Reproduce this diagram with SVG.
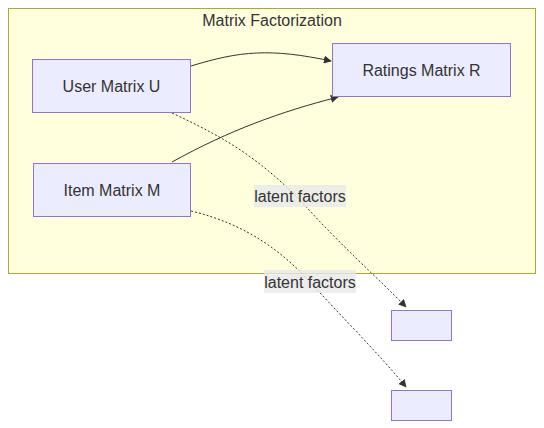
<svg xmlns="http://www.w3.org/2000/svg" width="544" height="428" viewBox="0 0 544 428">
<style>
text{font-family:"Liberation Sans",Arial,sans-serif;font-size:16px;fill:#333;text-anchor:middle;dominant-baseline:central}
.node rect{fill:#ececff;stroke:#9370db;stroke-width:1}
.edge{fill:none;stroke:#333;stroke-width:1}
.dash{stroke-dasharray:2 2}
.lbl{fill:#e8e8e8;opacity:0.8}
</style>
<defs>
<marker id="arr" viewBox="0 0 10 10" refX="9" refY="5" markerWidth="8" markerHeight="8" orient="auto" markerUnits="userSpaceOnUse">
<path d="M0,0 L10,5 L0,10 z" fill="#333"/>
</marker>
</defs>
<g id="cluster">
<rect x="8.5" y="8.5" width="527" height="265" fill="#ffffde" stroke="#aaaa33"/>
<text x="272" y="20">Matrix Factorization</text>
</g>
<g id="edges">
<path class="edge" d="M191,66 C240,51 270,48 331,61" marker-end="url(#arr)"/>
<path class="edge" d="M172,162 C230,130 280,112 338,97" marker-end="url(#arr)"/>
<path class="edge dash" d="M172,113 C230,140 260,160 300,200 C340,245 380,280 406,307" marker-end="url(#arr)"/>
<path class="edge dash" d="M191,211 C250,225 285,255 310,282 C340,315 380,355 406,387" marker-end="url(#arr)"/>
</g>
<g id="label1">
<rect class="lbl" x="254" y="185" width="92" height="22"/>
<text x="300" y="196">latent factors</text>
</g>
<g id="label2">
<rect class="lbl" x="264" y="270" width="92" height="23"/>
<text x="310" y="282">latent factors</text>
</g>
<g id="U" class="node">
<rect x="32.5" y="59.5" width="158" height="53"/>
<text x="111.5" y="86">User Matrix U</text>
</g>
<g id="R" class="node">
<rect x="332.5" y="43.5" width="178" height="53"/>
<text x="421.5" y="70">Ratings Matrix R</text>
</g>
<g id="M" class="node">
<rect x="33.5" y="163.5" width="157" height="53"/>
<text x="112" y="190">Item Matrix M</text>
</g>
<g id="E1" class="node">
<rect x="391.5" y="310.5" width="60" height="30"/>
</g>
<g id="E2" class="node">
<rect x="391.5" y="390.5" width="60" height="30"/>
</g>
</svg>
